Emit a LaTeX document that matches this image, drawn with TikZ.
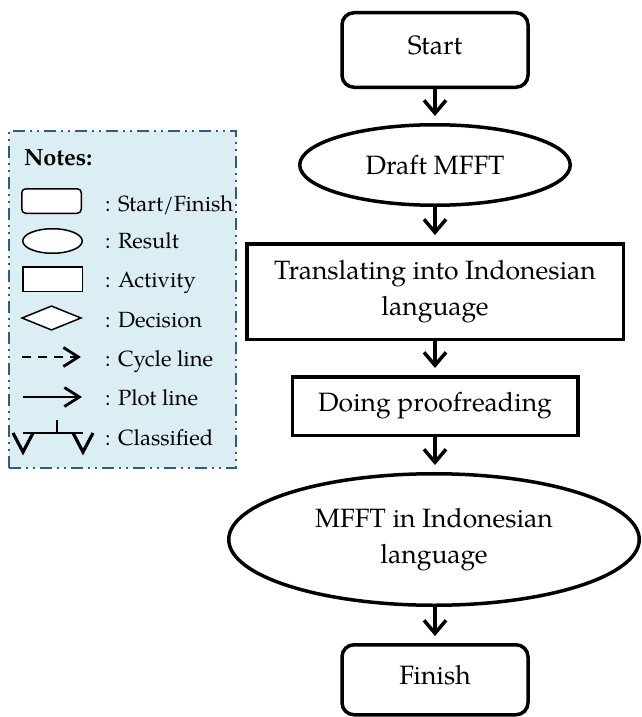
\documentclass[tikz,border=0pt]{standalone}
\usepackage{fontspec}
\setmainfont{texgyrepagella}[Extension=.otf,UprightFont=*-regular,BoldFont=*-bold,ItalicFont=*-italic,BoldItalicFont=*-bolditalic]
\usetikzlibrary{shapes.geometric,arrows.meta}
\definecolor{notefill}{HTML}{DAEEF3}
\definecolor{noteedge}{HTML}{2E5A8C}

\tikzset{
  flow/.style={draw, line width=3.5pt, inner sep=0pt, align=center,
    font=\fontsize{26.5}{36}\selectfont},
  termbox/.style={flow, rectangle, rounded corners=12pt,
    minimum width=186pt, minimum height=74.5pt,
    text height=18pt, text depth=9pt},
  resultell/.style={flow, ellipse},
  actbox/.style={flow, rectangle},
  flowarrow/.style={line width=3.5pt, shorten >=7pt,
    -{Straight Barb[length=13pt,width=22pt]}},
  notebox/.style={draw=noteedge, fill=notefill, line width=2pt,
    dash pattern=on 12pt off 5pt on 2pt off 5pt on 2pt off 5pt,
    minimum width=227pt, minimum height=337pt, inner sep=0pt},
  keyshape/.style={draw, line width=1.5pt, fill=white, inner sep=0pt,
    minimum width=59.5pt, minimum height=24.5pt},
  keytext/.style={anchor=base west, inner sep=0pt,
    font=\fontsize{22}{25}\selectfont},
  keyarrow/.style={line width=2.8pt, -{Straight Barb[length=15pt,width=19pt]}},
}

\begin{document}
\begin{tikzpicture}[x=1pt, y=-1pt]
  \useasboundingbox (0,0) rectangle (641,717);

  % ---------- legend ----------
  \node[notebox] (notes) at (122.5,299.5) {};
  \node[keytext, font=\fontsize{23.5}{26}\selectfont\bfseries] (notestitle) at (24,165) {Notes:};

  \node[keyshape, rounded corners=4pt] (kterm) at (51.5,201) {};
  \node[keyshape, ellipse] (kres) at (52.5,241) {};
  \node[keyshape, rectangle] (kact) at (52.5,279) {};
  \node[keyshape, diamond] (kdec) at (51.5,318) {};

  \coordinate (kcyA) at (22,357);
  \coordinate (kcyB) at (81,357);
  \draw[keyarrow, dash pattern=on 9pt off 7pt] (kcyA) -- (kcyB);

  \coordinate (kplA) at (23,397);
  \coordinate (kplB) at (82,397);
  \draw[keyarrow] (kplA) -- (kplB);

  % split symbol
  \coordinate (kclL) at (23,433);
  \coordinate (kclR) at (83,433);
  \coordinate (kclT) at (57,420);
  \draw[line width=2pt] (kclL) -- (kclR);
  \draw[line width=1.8pt] (kclT) -- (57,433);
  \draw[line width=3.2pt, line join=miter] (13,433) -- (23,452) -- (33,433);
  \draw[line width=3.2pt, line join=miter] (73,433) -- (83,452) -- (93,433);

  \node[keytext] (lterm) at (105,211) {: Start/Finish};
  \node[keytext] (lres)  at (105,248) {: Result};
  \node[keytext] (lact)  at (105,287) {: Activity};
  \node[keytext] (ldec)  at (105,327) {: Decision};
  \node[keytext] (lcyc)  at (105,366) {: Cycle line};
  \node[keytext] (lplot) at (105,405) {: Plot line};
  \node[keytext] (lcls)  at (105,445) {: Classified};

  % ---------- flow ----------
  \node[termbox] (start) at (435,50) {Start};
  \node[resultell, minimum width=270.5pt, minimum height=80.5pt] (draft) at (435,165) {Draft MFFT};
  \node[actbox, minimum width=376.5pt, minimum height=95.5pt] (transl) at (435,291.5)
    {Translating into Indonesian\\language};
  \node[actbox, minimum width=285.5pt, minimum height=58.5pt] (proof) at (435,406)
    {Doing proofreading};
  \node[resultell, minimum width=410.5pt, minimum height=131.5pt] (mfft) at (434,539.5)
    {MFFT in Indonesian\\language};
  \node[termbox, minimum height=70pt] (finish) at (435,679.75) {Finish};

  \draw[flowarrow] (start.south) -- (draft.north);
  \draw[flowarrow] (draft.south) -- (transl.north);
  \draw[flowarrow] (transl.south) -- (proof.north);
  \draw[flowarrow] (proof.south) -- (proof.south |- mfft.north);
  \draw[flowarrow] (mfft.south -| finish.north) -- (finish.north);
\end{tikzpicture}
\end{document}
